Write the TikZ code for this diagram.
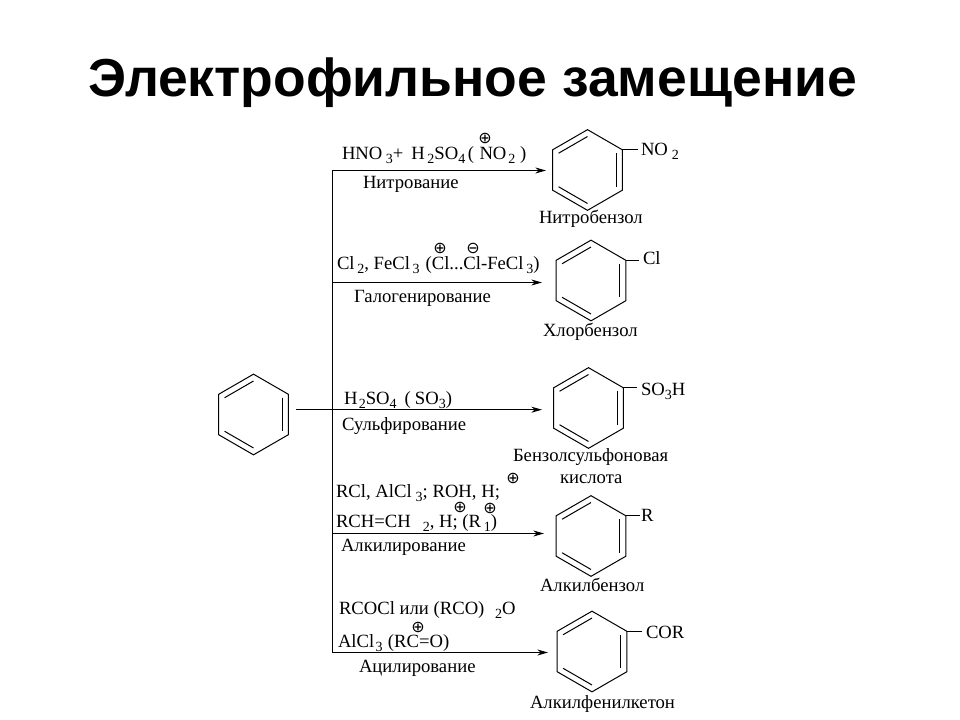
\documentclass[tikz,border=0pt]{standalone}
\usepackage{fontspec}
\setmainfont{Liberation Serif}
\newfontfamily\ttlfont{Liberation Sans}
\newfontfamily\symfont{DejaVu Sans}
\usetikzlibrary{arrows.meta,calc,shapes.geometric}
\newcommand{\sbs}[1]{\raisebox{-3pt}{\fontsize{10.5}{12}\selectfont #1}}
\newcommand{\bz}[4]{%
  \node[ringbox] (#1) at (#2,#3) {};
  \draw[bondline] ($(#1)!0.83!(#1.corner 1)$) -- ($(#1)!0.83!(#1.corner 6)$);
  \draw[bondline] ($(#1)!0.83!(#1.corner 2)$) -- ($(#1)!0.83!(#1.corner 3)$);
  \draw[bondline] ($(#1)!0.83!(#1.corner 4)$) -- ($(#1)!0.83!(#1.corner 5)$);
  \ifdim #4pt>0pt
    \coordinate (#1-end) at ($(#1.corner 1)+(#4,0)$);
    \draw[bondline] (#1.corner 1) -- (#1-end);
  \fi
}
\tikzset{
  bondline/.style={line width=0.75pt,black},
  ringbox/.style={regular polygon,regular polygon sides=6,shape border rotate=-30,minimum size=60.5pt,inner sep=0pt,outer sep=0pt,draw,line width=0.75pt},
  rarrow/.style={line width=0.8pt,-{Stealth[length=8pt,width=4.5pt,inset=2.5pt]}},
  chem/.style={anchor=base west,inner sep=0pt,outer sep=0pt,font=\fontsize{14}{16}\selectfont},
  chg/.style={inner sep=0pt,outer sep=0pt,font=\symfont\fontsize{12}{14}\selectfont},
  titletext/.style={anchor=base west,inner sep=0pt,font=\ttlfont\bfseries\fontsize{40.1}{44}\selectfont}
}
\begin{document}
\begin{tikzpicture}[x=0.75pt,y=-0.75pt]
\useasboundingbox (0,0) rectangle (960,720);
\node[titletext] (title) at (88,97) {Электрофильное замещение};

% rings
\bz{r0}{253.5}{414.5}{0}
\bz{r1}{587.5}{170}{16}
\bz{r2}{591}{280.5}{13}
\bz{r3}{588.5}{408}{14}
\bz{r4}{591}{536}{14}
\bz{r5}{592}{651.5}{15}

% connectors
\coordinate (t1) at (332.5,170.5);
\coordinate (t5) at (332.5,652.5);
\coordinate (a1) at (546,170.5);
\coordinate (t2) at (332.5,282.5);
\coordinate (a2) at (542,282.5);
\coordinate (s3) at (296,409.7);
\coordinate (a3) at (542,409.7);
\coordinate (t4) at (332,533.5);
\coordinate (a4) at (544,533.5);
\coordinate (a5) at (548,652.5);
\draw[bondline] (t1) -- (t5);
\draw[rarrow] (t1) -- (a1);
\draw[rarrow] (t2) -- (a2);
\draw[rarrow] (s3) -- (a3);
\draw[rarrow] (t4) -- (a4);
\draw[rarrow] (t5) -- (a5);

% reagent labels
\node[chem] (l1) at (342,160) {HNO\hspace{2.5pt}\sbs{3}+\hspace{6pt}H\hspace{2pt}\sbs{2}SO\sbs{4}\hspace{2pt}(\hspace{4pt}NO\hspace{1.5pt}\sbs{2}\hspace{3.5pt})};
\node[chem] (n1) at (363,189) {Нитрование};
\node[chem] (p1) at (539,224) {Нитробензол};
\node[chem] (f1) at (641,156) {NO\hspace{3pt}\sbs{2}};
\node[chg] (c1) at (485,138) {⊕};

\node[chem] (l2) at (337,270) {Cl\hspace{2pt}\sbs{2}, FeCl\hspace{2pt}\sbs{3}\hspace{1pt} (Cl...Cl-FeCl\hspace{2pt}\sbs{3})};
\node[chem] (n2) at (354,302) {Галогенирование};
\node[chem] (p2) at (543,336) {Хлорбензол};
\node[chem] (f2) at (643,265) {Cl};
\node[chg] (c2) at (440,248) {⊕};
\node[chg] (c3) at (473,248) {⊖};

\node[chem] (l3) at (344,404) {H\hspace{1pt}\sbs{2}SO\sbs{4}\hspace{6pt}(\hspace{3pt}SO\sbs{3})};
\node[chem] (n3) at (342,430) {Сульфирование};
\node[chem] (p3) at (513,461) {Бензолсульфоновая};
\node[chem] (p3b) at (560,483) {кислота};
\node[chem] (f3) at (641,395) {SO\sbs{3}H};
\node[chg] (c4) at (513,478) {⊕};

\node[chem] (l4) at (336,497) {RCl, AlCl\hspace{3pt}\sbs{3}; ROH, H;};
\node[chem] (l4b) at (336,527) {RCH=CH\hspace{9pt}\sbs{2}, H; (R\hspace{2pt}\sbs{1})};
\node[chem] (n4) at (341,551) {Алкилирование};
\node[chem] (p4) at (540,591) {Алкилбензол};
\node[chem] (f4) at (641,521) {R};
\node[chg] (c5) at (460,507) {⊕};
\node[chg] (c6) at (490,508) {⊕};

\node[chem] (l5) at (339,614) {RCOCl или (RCO)\hspace{8pt}\sbs{2}O};
\node[chem] (l5b) at (338,647) {AlCl\hspace{1pt}\sbs{3}\hspace{0.5pt} (RC=O)};
\node[chem] (n5) at (359,672) {Ацилирование};
\node[chem] (p5) at (530,708) {Алкилфенилкетон};
\node[chem] (f5) at (646,638) {COR};
\node[chg] (c7) at (418,627) {⊕};
\end{tikzpicture}
\end{document}
